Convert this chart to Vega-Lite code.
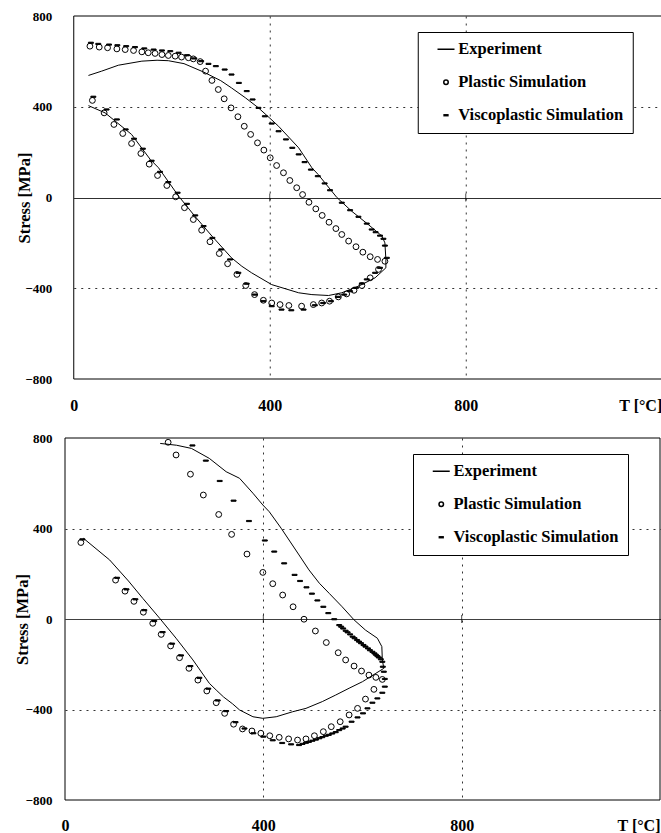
{
"$schema": "https://vega.github.io/schema/vega-lite/v6.json",
"background": "white",
"padding": {"left": 14, "top": 10, "right": 0, "bottom": 0},
"config": {
  "font": "Liberation Serif",
  "view": {"stroke": null},
  "axis": {"labelFont": "Liberation Serif", "labelFontWeight": "bold", "titleFont": "Liberation Serif", "titleFontWeight": "bold", "labelColor": "black", "titleColor": "black", "domain": false, "ticks": false, "grid": true},
  "legend": {"orient": "none", "strokeColor": "black", "fillColor": "white", "padding": 9, "labelFont": "Liberation Serif", "labelFontWeight": "bold", "labelFontSize": 16.5, "labelColor": "black", "labelLimit": 400, "labelExpr": "datum.label + '\u00a0\u00a0\u00a0'", "symbolSize": 20, "symbolOffset": 11, "labelOffset": 4, "rowPadding": 16}
},
"resolve": {"scale": {"shape": "independent", "fill": "independent"}, "legend": {"shape": "independent", "fill": "independent"}},
"columns": 1,
"center": true,
"spacing": 19,
"datasets": {
"topLine": [
{"i":1,"x":30,"y":538},{"i":2,"x":57,"y":557},{"i":3,"x":91,"y":583},{"i":4,"x":139,"y":601},{"i":5,"x":170,"y":605},{"i":6,"x":193,"y":603},{"i":7,"x":225,"y":590},{"i":8,"x":265,"y":553},{"i":9,"x":300,"y":515},{"i":10,"x":322,"y":483},{"i":11,"x":350,"y":440},{"i":12,"x":377,"y":395},{"i":13,"x":400,"y":350},{"i":14,"x":418,"y":314},{"i":15,"x":459,"y":219},{"i":16,"x":486,"y":131},{"i":17,"x":499,"y":101},{"i":18,"x":537,"y":0},{"i":19,"x":567,"y":-60},{"i":20,"x":601,"y":-119},{"i":21,"x":629,"y":-170},{"i":22,"x":635,"y":-200},{"i":23,"x":637,"y":-273},{"i":24,"x":637,"y":-310},{"i":25,"x":615,"y":-354},{"i":26,"x":581,"y":-391},{"i":27,"x":547,"y":-420},{"i":28,"x":520,"y":-432},{"i":29,"x":486,"y":-428},{"i":30,"x":459,"y":-420},{"i":31,"x":404,"y":-384},{"i":32,"x":363,"y":-332},{"i":33,"x":343,"y":-303},{"i":34,"x":322,"y":-266},{"i":35,"x":282,"y":-170},{"i":36,"x":247,"y":-82},{"i":37,"x":214,"y":6},{"i":38,"x":173,"y":131},{"i":39,"x":156,"y":168},{"i":40,"x":118,"y":278},{"i":41,"x":64,"y":373},{"i":42,"x":30,"y":405}
],
"topPts": [
{"s":"Plastic Simulation","x":33,"y":667},{"s":"Plastic Simulation","x":52,"y":663},{"s":"Plastic Simulation","x":69,"y":660},{"s":"Plastic Simulation","x":88,"y":655},{"s":"Plastic Simulation","x":105,"y":652},{"s":"Plastic Simulation","x":122,"y":648},{"s":"Plastic Simulation","x":139,"y":642},{"s":"Plastic Simulation","x":152,"y":638},{"s":"Plastic Simulation","x":166,"y":635},{"s":"Plastic Simulation","x":180,"y":630},{"s":"Plastic Simulation","x":193,"y":626},{"s":"Plastic Simulation","x":207,"y":623},{"s":"Plastic Simulation","x":220,"y":619},{"s":"Plastic Simulation","x":234,"y":616},{"s":"Plastic Simulation","x":244,"y":611},{"s":"Plastic Simulation","x":258,"y":599},{"s":"Plastic Simulation","x":269,"y":557},{"s":"Plastic Simulation","x":282,"y":516},{"s":"Plastic Simulation","x":295,"y":476},{"s":"Plastic Simulation","x":307,"y":435},{"s":"Plastic Simulation","x":321,"y":395},{"s":"Plastic Simulation","x":335,"y":356},{"s":"Plastic Simulation","x":348,"y":314},{"s":"Plastic Simulation","x":361,"y":278},{"s":"Plastic Simulation","x":375,"y":241},{"s":"Plastic Simulation","x":388,"y":209},{"s":"Plastic Simulation","x":401,"y":175},{"s":"Plastic Simulation","x":414,"y":141},{"s":"Plastic Simulation","x":428,"y":109},{"s":"Plastic Simulation","x":441,"y":75},{"s":"Plastic Simulation","x":455,"y":43},{"s":"Plastic Simulation","x":467,"y":13},{"s":"Plastic Simulation","x":480,"y":-21},{"s":"Plastic Simulation","x":494,"y":-50},{"s":"Plastic Simulation","x":507,"y":-79},{"s":"Plastic Simulation","x":521,"y":-109},{"s":"Plastic Simulation","x":535,"y":-137},{"s":"Plastic Simulation","x":547,"y":-163},{"s":"Plastic Simulation","x":561,"y":-192},{"s":"Plastic Simulation","x":576,"y":-217},{"s":"Plastic Simulation","x":590,"y":-241},{"s":"Plastic Simulation","x":605,"y":-261},{"s":"Plastic Simulation","x":620,"y":-273},{"s":"Plastic Simulation","x":635,"y":-281},
{"s":"Plastic Simulation","x":622,"y":-317},{"s":"Plastic Simulation","x":605,"y":-354},{"s":"Plastic Simulation","x":588,"y":-388},{"s":"Plastic Simulation","x":572,"y":-409},{"s":"Plastic Simulation","x":557,"y":-425},{"s":"Plastic Simulation","x":540,"y":-438},{"s":"Plastic Simulation","x":522,"y":-457},{"s":"Plastic Simulation","x":506,"y":-465},{"s":"Plastic Simulation","x":489,"y":-472},{"s":"Plastic Simulation","x":465,"y":-479},{"s":"Plastic Simulation","x":439,"y":-476},{"s":"Plastic Simulation","x":421,"y":-472},{"s":"Plastic Simulation","x":404,"y":-465},{"s":"Plastic Simulation","x":387,"y":-453},{"s":"Plastic Simulation","x":369,"y":-428},{"s":"Plastic Simulation","x":351,"y":-388},{"s":"Plastic Simulation","x":333,"y":-339},{"s":"Plastic Simulation","x":314,"y":-292},{"s":"Plastic Simulation","x":297,"y":-247},{"s":"Plastic Simulation","x":278,"y":-195},{"s":"Plastic Simulation","x":261,"y":-144},{"s":"Plastic Simulation","x":244,"y":-97},{"s":"Plastic Simulation","x":226,"y":-45},{"s":"Plastic Simulation","x":208,"y":3},{"s":"Plastic Simulation","x":190,"y":53},{"s":"Plastic Simulation","x":171,"y":97},{"s":"Plastic Simulation","x":154,"y":147},{"s":"Plastic Simulation","x":137,"y":194},{"s":"Plastic Simulation","x":118,"y":238},{"s":"Plastic Simulation","x":100,"y":282},{"s":"Plastic Simulation","x":82,"y":322},{"s":"Plastic Simulation","x":62,"y":373},{"s":"Plastic Simulation","x":38,"y":428},
{"s":"Viscoplastic Simulation","x":35,"y":682},{"s":"Viscoplastic Simulation","x":50,"y":677},{"s":"Viscoplastic Simulation","x":72,"y":674},{"s":"Viscoplastic Simulation","x":89,"y":671},{"s":"Viscoplastic Simulation","x":107,"y":667},{"s":"Viscoplastic Simulation","x":125,"y":663},{"s":"Viscoplastic Simulation","x":144,"y":657},{"s":"Viscoplastic Simulation","x":163,"y":652},{"s":"Viscoplastic Simulation","x":180,"y":648},{"s":"Viscoplastic Simulation","x":197,"y":645},{"s":"Viscoplastic Simulation","x":214,"y":638},{"s":"Viscoplastic Simulation","x":231,"y":627},{"s":"Viscoplastic Simulation","x":246,"y":613},{"s":"Viscoplastic Simulation","x":260,"y":601},{"s":"Viscoplastic Simulation","x":275,"y":589},{"s":"Viscoplastic Simulation","x":290,"y":579},{"s":"Viscoplastic Simulation","x":308,"y":564},{"s":"Viscoplastic Simulation","x":322,"y":542},{"s":"Viscoplastic Simulation","x":337,"y":505},{"s":"Viscoplastic Simulation","x":353,"y":469},{"s":"Viscoplastic Simulation","x":365,"y":432},{"s":"Viscoplastic Simulation","x":377,"y":395},{"s":"Viscoplastic Simulation","x":390,"y":358},{"s":"Viscoplastic Simulation","x":404,"y":326},{"s":"Viscoplastic Simulation","x":418,"y":292},{"s":"Viscoplastic Simulation","x":433,"y":256},{"s":"Viscoplastic Simulation","x":446,"y":219},{"s":"Viscoplastic Simulation","x":459,"y":190},{"s":"Viscoplastic Simulation","x":471,"y":156},{"s":"Viscoplastic Simulation","x":484,"y":123},{"s":"Viscoplastic Simulation","x":498,"y":94},{"s":"Viscoplastic Simulation","x":512,"y":62},{"s":"Viscoplastic Simulation","x":523,"y":32},{"s":"Viscoplastic Simulation","x":547,"y":-23},{"s":"Viscoplastic Simulation","x":564,"y":-56},{"s":"Viscoplastic Simulation","x":581,"y":-85},{"s":"Viscoplastic Simulation","x":598,"y":-115},{"s":"Viscoplastic Simulation","x":608,"y":-141},{"s":"Viscoplastic Simulation","x":616,"y":-153},{"s":"Viscoplastic Simulation","x":625,"y":-168},{"s":"Viscoplastic Simulation","x":632,"y":-182},{"s":"Viscoplastic Simulation","x":635,"y":-212},{"s":"Viscoplastic Simulation","x":639,"y":-266},
{"s":"Viscoplastic Simulation","x":625,"y":-310},{"s":"Viscoplastic Simulation","x":615,"y":-332},{"s":"Viscoplastic Simulation","x":598,"y":-361},{"s":"Viscoplastic Simulation","x":588,"y":-379},{"s":"Viscoplastic Simulation","x":576,"y":-398},{"s":"Viscoplastic Simulation","x":564,"y":-413},{"s":"Viscoplastic Simulation","x":552,"y":-428},{"s":"Viscoplastic Simulation","x":539,"y":-438},{"s":"Viscoplastic Simulation","x":525,"y":-457},{"s":"Viscoplastic Simulation","x":509,"y":-465},{"s":"Viscoplastic Simulation","x":492,"y":-475},{"s":"Viscoplastic Simulation","x":469,"y":-494},{"s":"Viscoplastic Simulation","x":444,"y":-497},{"s":"Viscoplastic Simulation","x":424,"y":-494},{"s":"Viscoplastic Simulation","x":404,"y":-479},{"s":"Viscoplastic Simulation","x":387,"y":-457},{"s":"Viscoplastic Simulation","x":370,"y":-428},{"s":"Viscoplastic Simulation","x":353,"y":-380},{"s":"Viscoplastic Simulation","x":336,"y":-332},{"s":"Viscoplastic Simulation","x":319,"y":-273},{"s":"Viscoplastic Simulation","x":301,"y":-229},{"s":"Viscoplastic Simulation","x":283,"y":-178},{"s":"Viscoplastic Simulation","x":265,"y":-126},{"s":"Viscoplastic Simulation","x":248,"y":-79},{"s":"Viscoplastic Simulation","x":231,"y":-28},{"s":"Viscoplastic Simulation","x":212,"y":21},{"s":"Viscoplastic Simulation","x":193,"y":68},{"s":"Viscoplastic Simulation","x":176,"y":113},{"s":"Viscoplastic Simulation","x":159,"y":162},{"s":"Viscoplastic Simulation","x":141,"y":215},{"s":"Viscoplastic Simulation","x":123,"y":259},{"s":"Viscoplastic Simulation","x":106,"y":300},{"s":"Viscoplastic Simulation","x":88,"y":344},{"s":"Viscoplastic Simulation","x":67,"y":388},{"s":"Viscoplastic Simulation","x":40,"y":444}
],
"botLine": [
{"i":1,"x":192,"y":776},{"i":2,"x":225,"y":768},{"i":3,"x":255,"y":754},{"i":4,"x":291,"y":710},{"i":5,"x":325,"y":651},{"i":6,"x":352,"y":622},{"i":7,"x":379,"y":556},{"i":8,"x":399,"y":504},{"i":9,"x":412,"y":474},{"i":10,"x":436,"y":401},{"i":11,"x":472,"y":283},{"i":12,"x":492,"y":217},{"i":13,"x":513,"y":158},{"i":14,"x":533,"y":113},{"i":15,"x":559,"y":54},{"i":16,"x":583,"y":-4},{"i":17,"x":606,"y":-49},{"i":18,"x":630,"y":-85},{"i":19,"x":639,"y":-122},{"i":20,"x":640,"y":-181},{"i":21,"x":643,"y":-218},{"i":22,"x":627,"y":-240},{"i":23,"x":600,"y":-277},{"i":24,"x":573,"y":-306},{"i":25,"x":546,"y":-336},{"i":26,"x":519,"y":-365},{"i":27,"x":486,"y":-395},{"i":28,"x":459,"y":-410},{"i":29,"x":426,"y":-432},{"i":30,"x":399,"y":-439},{"i":31,"x":379,"y":-432},{"i":32,"x":352,"y":-402},{"i":33,"x":338,"y":-375},{"i":34,"x":320,"y":-345},{"i":35,"x":305,"y":-314},{"i":36,"x":291,"y":-284},{"i":37,"x":258,"y":-181},{"i":38,"x":224,"y":-85},{"i":39,"x":191,"y":3},{"i":40,"x":157,"y":91},{"i":41,"x":128,"y":168},{"i":42,"x":90,"y":261},{"i":43,"x":37,"y":357}
],
"botPts": [
{"s":"Plastic Simulation","x":208,"y":781},{"s":"Plastic Simulation","x":224,"y":725},{"s":"Plastic Simulation","x":253,"y":640},{"s":"Plastic Simulation","x":279,"y":548},{"s":"Plastic Simulation","x":310,"y":462},{"s":"Plastic Simulation","x":336,"y":374},{"s":"Plastic Simulation","x":367,"y":287},{"s":"Plastic Simulation","x":399,"y":206},{"s":"Plastic Simulation","x":419,"y":156},{"s":"Plastic Simulation","x":439,"y":106},{"s":"Plastic Simulation","x":460,"y":54},{"s":"Plastic Simulation","x":482,"y":-1},{"s":"Plastic Simulation","x":505,"y":-53},{"s":"Plastic Simulation","x":527,"y":-104},{"s":"Plastic Simulation","x":551,"y":-149},{"s":"Plastic Simulation","x":566,"y":-181},{"s":"Plastic Simulation","x":583,"y":-208},{"s":"Plastic Simulation","x":598,"y":-230},{"s":"Plastic Simulation","x":613,"y":-248},{"s":"Plastic Simulation","x":627,"y":-258},{"s":"Plastic Simulation","x":640,"y":-267},
{"s":"Plastic Simulation","x":623,"y":-311},{"s":"Plastic Simulation","x":606,"y":-354},{"s":"Plastic Simulation","x":590,"y":-395},{"s":"Plastic Simulation","x":573,"y":-424},{"s":"Plastic Simulation","x":555,"y":-454},{"s":"Plastic Simulation","x":537,"y":-476},{"s":"Plastic Simulation","x":521,"y":-498},{"s":"Plastic Simulation","x":503,"y":-516},{"s":"Plastic Simulation","x":486,"y":-530},{"s":"Plastic Simulation","x":469,"y":-535},{"s":"Plastic Simulation","x":451,"y":-530},{"s":"Plastic Simulation","x":432,"y":-523},{"s":"Plastic Simulation","x":413,"y":-516},{"s":"Plastic Simulation","x":395,"y":-505},{"s":"Plastic Simulation","x":377,"y":-495},{"s":"Plastic Simulation","x":358,"y":-486},{"s":"Plastic Simulation","x":340,"y":-465},{"s":"Plastic Simulation","x":322,"y":-417},{"s":"Plastic Simulation","x":305,"y":-370},{"s":"Plastic Simulation","x":286,"y":-318},{"s":"Plastic Simulation","x":268,"y":-270},{"s":"Plastic Simulation","x":250,"y":-218},{"s":"Plastic Simulation","x":231,"y":-171},{"s":"Plastic Simulation","x":213,"y":-119},{"s":"Plastic Simulation","x":194,"y":-68},{"s":"Plastic Simulation","x":177,"y":-19},{"s":"Plastic Simulation","x":158,"y":30},{"s":"Plastic Simulation","x":139,"y":78},{"s":"Plastic Simulation","x":121,"y":123},{"s":"Plastic Simulation","x":102,"y":172},{"s":"Plastic Simulation","x":32,"y":338},
{"s":"Viscoplastic Simulation","x":257,"y":767},{"s":"Viscoplastic Simulation","x":284,"y":700},{"s":"Viscoplastic Simulation","x":312,"y":610},{"s":"Viscoplastic Simulation","x":340,"y":523},{"s":"Viscoplastic Simulation","x":371,"y":433},{"s":"Viscoplastic Simulation","x":403,"y":347},{"s":"Viscoplastic Simulation","x":422,"y":298},{"s":"Viscoplastic Simulation","x":442,"y":246},{"s":"Viscoplastic Simulation","x":463,"y":195},{"s":"Viscoplastic Simulation","x":474,"y":168},{"s":"Viscoplastic Simulation","x":487,"y":140},{"s":"Viscoplastic Simulation","x":498,"y":112},{"s":"Viscoplastic Simulation","x":509,"y":82},{"s":"Viscoplastic Simulation","x":521,"y":54},{"s":"Viscoplastic Simulation","x":531,"y":26},{"s":"Viscoplastic Simulation","x":543,"y":-1},
{"s":"Viscoplastic Simulation","x":553,"y":-27},{"s":"Viscoplastic Simulation","x":557,"y":-34},{"s":"Viscoplastic Simulation","x":561,"y":-42},{"s":"Viscoplastic Simulation","x":566,"y":-52},{"s":"Viscoplastic Simulation","x":570,"y":-59},{"s":"Viscoplastic Simulation","x":575,"y":-68},{"s":"Viscoplastic Simulation","x":580,"y":-78},{"s":"Viscoplastic Simulation","x":584,"y":-85},{"s":"Viscoplastic Simulation","x":589,"y":-93},{"s":"Viscoplastic Simulation","x":593,"y":-100},{"s":"Viscoplastic Simulation","x":597,"y":-107},{"s":"Viscoplastic Simulation","x":602,"y":-115},{"s":"Viscoplastic Simulation","x":606,"y":-122},{"s":"Viscoplastic Simulation","x":611,"y":-130},{"s":"Viscoplastic Simulation","x":615,"y":-138},{"s":"Viscoplastic Simulation","x":620,"y":-145},{"s":"Viscoplastic Simulation","x":624,"y":-152},{"s":"Viscoplastic Simulation","x":627,"y":-158},{"s":"Viscoplastic Simulation","x":630,"y":-164},{"s":"Viscoplastic Simulation","x":633,"y":-170},{"s":"Viscoplastic Simulation","x":637,"y":-178},{"s":"Viscoplastic Simulation","x":640,"y":-189},{"s":"Viscoplastic Simulation","x":641,"y":-211},{"s":"Viscoplastic Simulation","x":643,"y":-233},{"s":"Viscoplastic Simulation","x":645,"y":-265},{"s":"Viscoplastic Simulation","x":645,"y":-299},
{"s":"Viscoplastic Simulation","x":640,"y":-326},{"s":"Viscoplastic Simulation","x":630,"y":-351},{"s":"Viscoplastic Simulation","x":620,"y":-370},{"s":"Viscoplastic Simulation","x":610,"y":-395},{"s":"Viscoplastic Simulation","x":601,"y":-417},{"s":"Viscoplastic Simulation","x":590,"y":-435},{"s":"Viscoplastic Simulation","x":578,"y":-454},{"s":"Viscoplastic Simulation","x":566,"y":-476},{"s":"Viscoplastic Simulation","x":560,"y":-484},{"s":"Viscoplastic Simulation","x":553,"y":-491},{"s":"Viscoplastic Simulation","x":546,"y":-500},{"s":"Viscoplastic Simulation","x":539,"y":-506},{"s":"Viscoplastic Simulation","x":532,"y":-512},{"s":"Viscoplastic Simulation","x":526,"y":-516},{"s":"Viscoplastic Simulation","x":519,"y":-522},{"s":"Viscoplastic Simulation","x":513,"y":-527},{"s":"Viscoplastic Simulation","x":506,"y":-533},{"s":"Viscoplastic Simulation","x":499,"y":-538},{"s":"Viscoplastic Simulation","x":492,"y":-543},{"s":"Viscoplastic Simulation","x":486,"y":-547},{"s":"Viscoplastic Simulation","x":479,"y":-552},{"s":"Viscoplastic Simulation","x":472,"y":-557},{"s":"Viscoplastic Simulation","x":456,"y":-554},{"s":"Viscoplastic Simulation","x":438,"y":-548},{"s":"Viscoplastic Simulation","x":419,"y":-536},{"s":"Viscoplastic Simulation","x":400,"y":-520},{"s":"Viscoplastic Simulation","x":380,"y":-505},{"s":"Viscoplastic Simulation","x":362,"y":-484},{"s":"Viscoplastic Simulation","x":344,"y":-456},
{"s":"Viscoplastic Simulation","x":325,"y":-407},{"s":"Viscoplastic Simulation","x":308,"y":-360},{"s":"Viscoplastic Simulation","x":289,"y":-308},{"s":"Viscoplastic Simulation","x":271,"y":-260},{"s":"Viscoplastic Simulation","x":253,"y":-208},{"s":"Viscoplastic Simulation","x":234,"y":-161},{"s":"Viscoplastic Simulation","x":216,"y":-109},{"s":"Viscoplastic Simulation","x":197,"y":-58},{"s":"Viscoplastic Simulation","x":180,"y":-9},{"s":"Viscoplastic Simulation","x":160,"y":39},{"s":"Viscoplastic Simulation","x":142,"y":87},{"s":"Viscoplastic Simulation","x":124,"y":131},{"s":"Viscoplastic Simulation","x":105,"y":182},{"s":"Viscoplastic Simulation","x":35,"y":352}
],
"zeroTicks": [{"t":400},{"t":800}]
},
"concat": [
{
  "width": 588, "height": 363,
  "encoding": {
    "x": {"type": "quantitative", "scale": {"domain": [0, 1200], "nice": false, "zero": false},
      "axis": {"title": null, "grid": true, "values": [0, 400, 800, 1200], "labelFontSize": 16, "labelPadding": 18,
        "labelExpr": "datum.value == 1200 ? 'T [°C]' : datum.label",
        "labelAlign": {"condition": {"test": "datum.value == 1200", "value": "right"}, "value": "center"},
        "gridColor": "#333", "gridDash": [2, 5],
        "gridOpacity": {"condition": {"test": "datum.value == 0 || datum.value == 1200", "value": 0}, "value": 1}}},
    "y": {"type": "quantitative", "scale": {"domain": [-800, 800], "nice": false},
      "axis": {"title": "Stress [MPa]", "grid": true, "titleFontSize": 16.5, "titlePadding": -8, "labelFontSize": 13, "labelPadding": 22,
        "values": [-800, -400, 0, 400, 800],
        "gridColor": {"condition": {"test": "datum.value == 0", "value": "black"}, "value": "#333"},
        "gridDash": {"condition": {"test": "datum.value == 0", "value": [1, 0]}, "value": [2, 5]},
        "gridOpacity": {"condition": {"test": "abs(datum.value) == 800", "value": 0}, "value": 1}}}
  },
  "layer": [
    {"data": {"name": "topLine"}, "mark": {"type": "line", "color": "black", "strokeWidth": 1},
     "encoding": {"x": {"field": "x"}, "y": {"field": "y"}, "order": {"field": "i", "type": "quantitative"}}},
    {"data": {"name": "topPts"}, "mark": {"type": "point", "filled": true, "stroke": "black", "strokeWidth": 1, "size": 34, "opacity": 1, "fillOpacity": 1, "strokeOpacity": 1},
     "encoding": {"x": {"field": "x"}, "y": {"field": "y"},
       "shape": {"field": "s", "type": "nominal", "title": null,
         "legend": {"legendX": 344, "legendY": 16, "encode": {"symbols": {"update": {"stroke": {"value": "black"}, "strokeWidth": {"value": 1}}}}},
         "scale": {"domain": ["Experiment", "Plastic Simulation", "Viscoplastic Simulation"], "range": ["M-3.8,0H3.8", "circle", "M-0.85,-0.2H0.85V0.2H-0.85Z"]}},
       "fill": {"field": "s", "type": "nominal", "title": null,
         "legend": {"legendX": 344, "legendY": 16, "encode": {"symbols": {"update": {"stroke": {"value": "black"}, "strokeWidth": {"value": 1}}}}},
         "scale": {"domain": ["Experiment", "Plastic Simulation", "Viscoplastic Simulation"], "range": ["transparent", "transparent", "black"]}}}},
    {"data": {"name": "zeroTicks"}, "mark": {"type": "tick", "orient": "vertical", "size": 8, "thickness": 1, "color": "black"},
     "encoding": {"x": {"field": "t", "type": "quantitative"}, "y": {"datum": 0}}},
    {"data": {"values": [{}]}, "mark": {"type": "rect", "filled": false, "stroke": "black", "strokeWidth": 1},
     "encoding": {"x": {"datum": 0}, "x2": {"datum": 1200}, "y": {"datum": -800}, "y2": {"datum": 800}}}
  ]
},
{
  "width": 606, "height": 362,
  "encoding": {
    "x": {"type": "quantitative", "scale": {"domain": [0, 1222.18], "nice": false, "zero": false},
      "axis": {"title": null, "grid": true, "values": [0, 400, 800, 1200], "labelFontSize": 16, "labelPadding": 17,
        "labelExpr": "datum.value == 1200 ? 'T [°C]' : datum.label",
        "labelAlign": {"condition": {"test": "datum.value == 1200", "value": "right"}, "value": "center"},
        "gridColor": "#333", "gridDash": [2, 5],
        "gridOpacity": {"condition": {"test": "datum.value == 0 || datum.value == 1200", "value": 0}, "value": 1}}},
    "y": {"type": "quantitative", "scale": {"domain": [-800, 800], "nice": false},
      "axis": {"title": "Stress [MPa]", "grid": true, "titleFontSize": 16.5, "titlePadding": -5.5, "labelFontSize": 13, "labelPadding": 13,
        "values": [-800, -400, 0, 400, 800],
        "gridColor": {"condition": {"test": "datum.value == 0", "value": "black"}, "value": "#333"},
        "gridDash": {"condition": {"test": "datum.value == 0", "value": [1, 0]}, "value": [2, 5]},
        "gridOpacity": {"condition": {"test": "abs(datum.value) == 800", "value": 0}, "value": 1}}}
  },
  "layer": [
    {"data": {"name": "botLine"}, "mark": {"type": "line", "color": "black", "strokeWidth": 1},
     "encoding": {"x": {"field": "x"}, "y": {"field": "y"}, "order": {"field": "i", "type": "quantitative"}}},
    {"data": {"name": "botPts"}, "mark": {"type": "point", "filled": true, "stroke": "black", "strokeWidth": 1, "size": 34, "opacity": 1, "fillOpacity": 1, "strokeOpacity": 1},
     "encoding": {"x": {"field": "x"}, "y": {"field": "y"},
       "shape": {"field": "s", "type": "nominal", "title": null,
         "legend": {"legendX": 348, "legendY": 16, "encode": {"symbols": {"update": {"stroke": {"value": "black"}, "strokeWidth": {"value": 1}}}}},
         "scale": {"domain": ["Experiment", "Plastic Simulation", "Viscoplastic Simulation"], "range": ["M-3.8,0H3.8", "circle", "M-0.85,-0.2H0.85V0.2H-0.85Z"]}},
       "fill": {"field": "s", "type": "nominal", "title": null,
         "legend": {"legendX": 348, "legendY": 16, "encode": {"symbols": {"update": {"stroke": {"value": "black"}, "strokeWidth": {"value": 1}}}}},
         "scale": {"domain": ["Experiment", "Plastic Simulation", "Viscoplastic Simulation"], "range": ["transparent", "transparent", "black"]}}}},
    {"data": {"name": "zeroTicks"}, "mark": {"type": "tick", "orient": "vertical", "size": 8, "thickness": 1, "color": "black"},
     "encoding": {"x": {"field": "t", "type": "quantitative"}, "y": {"datum": 0}}},
    {"data": {"values": [{}]}, "mark": {"type": "rect", "filled": false, "stroke": "black", "strokeWidth": 1},
     "encoding": {"x": {"datum": 0}, "x2": {"datum": 1200}, "y": {"datum": -800}, "y2": {"datum": 800}}}
  ]
}
]
}
